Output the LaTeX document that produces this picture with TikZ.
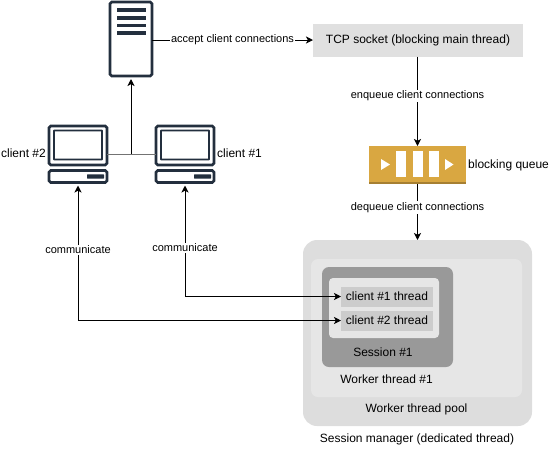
\documentclass[tikz,border=0pt]{standalone}
\usepackage{fontspec}
\setmainfont{Liberation Sans}
\usepackage{xcolor}
\usetikzlibrary{arrows.meta,positioning,calc}
\definecolor{IconNavy}{HTML}{232F3E}
\definecolor{QueueGold}{HTML}{D9A741}
\definecolor{QueueEdge}{HTML}{A67F32}
\definecolor{PanelGray}{HTML}{DDDDDD}
\definecolor{PoolGray}{HTML}{E6E6E6}
\definecolor{SessionGray}{HTML}{999999}
\definecolor{ThreadGray}{HTML}{CCCCCC}
\definecolor{SocketGray}{HTML}{E0E0E0}
\begin{document}
\begin{tikzpicture}[
  x=1pt,y=-1pt,
  panel/.style={rounded corners=#1,minimum width=0pt,inner sep=0pt,outer sep=0pt},
  icon/.style={draw=IconNavy,line width=2.6pt,fill=white,rounded corners=1.8pt,inner sep=0pt,outer sep=0pt},
  bar/.style={fill=IconNavy,inner sep=0pt,outer sep=0pt},
  label/.style={font=\fontsize{12}{14}\selectfont,inner sep=0pt,text=black},
  flowlabel/.style={font=\fontsize{11}{13}\selectfont,fill=white,inner sep=1pt,text=black},
  arrow/.style={-{Stealth[length=7pt,width=7pt,inset=1.8pt]},line width=1pt,draw=black},
  twoway/.style={{Stealth[length=7pt,width=7pt,inset=1.8pt]}-{Stealth[length=7pt,width=7pt,inset=1.8pt]},line width=1pt,draw=black}
]
\useasboundingbox (0,0) rectangle (549,467);

\node[icon,minimum width=42pt,minimum height=74pt] (server) at (131,39) {};
\foreach \y in {10,18,25.5,33}
  \node[bar,minimum width=29pt,minimum height=3.4pt] at (131.5,\y) {};

\node[icon,minimum width=58pt,minimum height=39pt] (screenB) at (78,145.5) {};
\node[icon,line width=1.8pt,rounded corners=0.5pt,minimum width=48pt,minimum height=29pt] at (78,145) {};
\node[icon,minimum width=58pt,minimum height=12pt] (baseB) at (78,176.5) {};
\node[bar,rounded corners=0.5pt,minimum width=17pt,minimum height=4.4pt] at (95.5,176.5) {};

\node[icon,minimum width=58pt,minimum height=39pt] (screenA) at (185,145.5) {};
\node[icon,line width=1.8pt,rounded corners=0.5pt,minimum width=48pt,minimum height=29pt] at (185,145) {};
\node[icon,minimum width=58pt,minimum height=12pt] (baseA) at (185,176.5) {};
\node[bar,rounded corners=0.5pt,minimum width=17pt,minimum height=4.4pt] at (202.5,176.5) {};

\node[label,anchor=east] (nameB) at (46,153.5) {client \#2};
\node[label,anchor=west] (nameA) at (217,153.5) {client \#1};

\node[panel=0pt,fill=SocketGray,minimum width=210pt,minimum height=33pt,font=\fontsize{12}{14}\selectfont] (socket) at (418,40) {TCP socket (blocking main thread)};

\node[fill=QueueGold,minimum width=97pt,minimum height=38pt,inner sep=0pt,outer sep=0pt] (queue) at (417.5,165) {};
\fill[QueueEdge] (369,181.5) rectangle (466,184);
\foreach \x in {401,417.5,434}
  \fill[white] (\x-5,151) rectangle (\x+5,177);
\fill[white] (381,159) -- (390,164.5) -- (381,170) -- cycle;
\fill[white] (445,159) -- (453.5,164.5) -- (445,170) -- cycle;
\node[label,anchor=west] (queuename) at (468,165) {blocking queue};

\node[panel=14pt,fill=PanelGray,minimum width=229pt,minimum height=186pt] (manager) at (417.5,333) {};
\node[panel=7pt,fill=PoolGray,minimum width=211pt,minimum height=138pt] (pool) at (416.5,328) {};
\node[panel=7pt,fill=SessionGray,minimum width=131pt,minimum height=100pt] (session) at (387.5,317) {};
\node[panel=4pt,fill=PoolGray,minimum width=110pt,minimum height=60pt] (inner) at (384,308) {};
\node[panel=0pt,fill=ThreadGray,minimum width=92pt,minimum height=20pt,font=\fontsize{12}{14}\selectfont] (threadA) at (387,296.5) {client \#1 thread};
\node[panel=0pt,fill=ThreadGray,minimum width=92pt,minimum height=20pt,font=\fontsize{12}{14}\selectfont] (threadB) at (387,320.5) {client \#2 thread};
\node[label] (sessionname) at (383,352) {Session \#1};
\node[label] (workername) at (386.5,379) {Worker thread \#1};
\node[label] (poolname) at (416.5,409.5) {Worker thread pool};
\node[label] (managername) at (417,439) {Session manager (dedicated thread)};

\coordinate (hub) at (131,154);
\draw[draw=gray!90!black,line width=1pt] (screenB.east |- hub) -- (screenA.west |- hub);
\draw[arrow,shorten >=3pt] (hub) -- (server.south);
\draw[arrow] (server.east |- socket) -- node[flowlabel,pos=.5] {accept client connections} (socket.west);
\draw[arrow] (socket.south -| queue) -- node[flowlabel,pos=.44] {enqueue client connections} (queue.north);
\draw[arrow] (queue.south) -- node[flowlabel,pos=.42] {dequeue client connections} (manager.north);
\draw[twoway,shorten <=3pt] (baseA.south) |- node[flowlabel,pos=.286] {communicate} (threadA.west);
\draw[twoway,shorten <=3pt] (baseB.south) |- node[flowlabel,pos=.243] {communicate} (threadB.west);
\end{tikzpicture}
\end{document}
